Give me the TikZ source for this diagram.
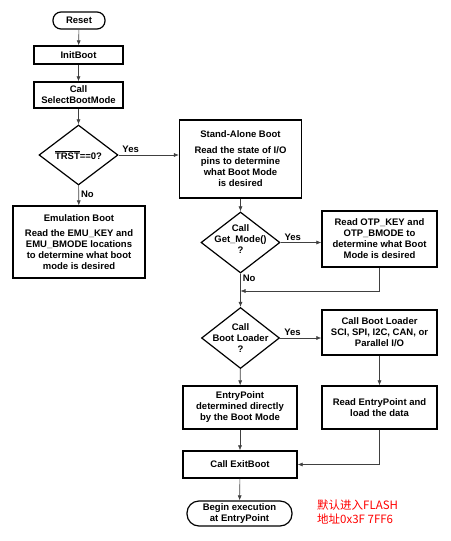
\documentclass[tikz,border=0pt]{standalone}
\usepackage{fontspec}
\setmainfont{Liberation Sans}
\newfontfamily\cjkfont{Noto Sans CJK SC}
\usetikzlibrary{shapes.geometric,arrows.meta}

\begin{document}
\begin{tikzpicture}[x=1pt, y=-1pt,
        box/.style = {shape=rectangle, draw, line width=1.2pt, align=center,
        font=\fontsize{9.5}{11}\selectfont\bfseries, inner sep=2pt},
        term/.style = {box, rounded corners=8pt},
        decision/.style = {shape=diamond, draw, line width=1.2pt, inner sep=0pt},
        lbl/.style = {font=\fontsize{9.5}{11}\selectfont\bfseries, inner sep=2pt},
        flow/.style = {draw=black!75, line width=0.6pt, -{Latex[length=5pt, width=4pt]}}]
    \useasboundingbox (0,0) rectangle (450,541);
    \node[term, minimum width=52pt, minimum height=17pt] (reset) at (79,20.5) {Reset};
    \node[box, minimum width=89pt, minimum height=18pt] (initboot) at (78.5,55) {InitBoot};
    \node[box, minimum width=89pt, minimum height=26pt] (selectboot) at (78.5,95) {Call\\SelectBootMode};
    \node[decision, minimum width=79pt, minimum height=60pt,
        label={[lbl]center:$\overline{\mbox{TRST}}$==0?}] (trst) at (78.5,155) {};
    \node[box, minimum width=132pt, minimum height=72pt] (emu) at (79,242)
        {Emulation Boot\\[4pt]Read the EMU\_KEY and\\EMU\_BMODE locations\\to determine what boot\\mode is desired};
    \node[box, minimum width=122pt, minimum height=78pt] (standalone) at (240.5,159)
        {Stand-Alone Boot\\[5pt]Read the state of I/O\\pins to determine\\what Boot Mode\\is desired};
    \node[decision, minimum width=79pt, minimum height=61pt,
        label={[lbl, align=center, yshift=3pt]center:{Call\\Get\_Mode()\\?}}] (getmode) at (240.5,242.5) {};
    \node[box, minimum width=115pt, minimum height=56pt] (otp) at (379.5,239)
        {Read OTP\_KEY and\\OTP\_BMODE to\\determine what Boot\\Mode is desired};
    \coordinate (join) at (240.5,291);
    \node[decision, minimum width=78pt, minimum height=61pt,
        label={[lbl, align=center]center:{Call\\Boot Loader\\?}}] (bootloader) at (240.5,338) {};
    \node[box, minimum width=115pt, minimum height=45pt] (callbl) at (379.5,332.5)
        {Call Boot Loader\\SCI, SPI, I2C, CAN, or\\Parallel I/O};
    \node[box, minimum width=114pt, minimum height=43pt] (entrypt) at (240,407.5)
        {EntryPoint\\determined directly\\by the Boot Mode};
    \node[box, minimum width=115pt, minimum height=43pt] (readep) at (379.5,407.5)
        {Read EntryPoint and\\load the data};
    \node[box, minimum width=114pt, minimum height=27pt] (exitboot) at (240,464.5) {Call ExitBoot};
    \node[term, rounded corners=12pt, minimum width=105pt, minimum height=25pt,
        font=\fontsize{9.5}{10.5}\selectfont\bfseries] (begin) at (239.5,513.5) {Begin execution\\at EntryPoint};
    \node[anchor=north west, align=left, inner sep=0pt, text=red,
        font=\cjkfont\fontsize{11.5}{14}\selectfont] (note) at (317,500) {默认进入FLASH\\地址0x3F 7FF6};

    \draw[flow] (reset) -- (initboot);
    \draw[flow] (initboot) -- (selectboot);
    \draw[flow] (selectboot) -- (trst);
    \draw[flow] (trst.east) -- node[lbl, above, pos=0.2] (yes1) {Yes} (trst.east -| standalone.west);
    \draw[flow] (trst) -- node[lbl, right, pos=0.45] (no1) {No} (emu);
    \draw[flow] (standalone) -- (getmode);
    \draw[flow] (getmode.east) -- node[lbl, above, pos=0.3] (yes2) {Yes} (getmode.east -| otp.west);
    \draw[flow] (getmode) -- node[lbl, right, pos=0.15] (no2) {No} (bootloader);
    \draw[flow] (otp.south) |- (join);
    \draw[flow] (bootloader.east) -- node[lbl, above, pos=0.3] (yes3) {Yes} (bootloader.east -| callbl.west);
    \draw[flow] (bootloader) -- (entrypt);
    \draw[flow] (callbl) -- (readep);
    \draw[flow] (entrypt) -- (exitboot);
    \draw[flow] (readep.south) |- (exitboot.east);
    \draw[flow] (exitboot) -- (begin);
\end{tikzpicture}
\end{document}
